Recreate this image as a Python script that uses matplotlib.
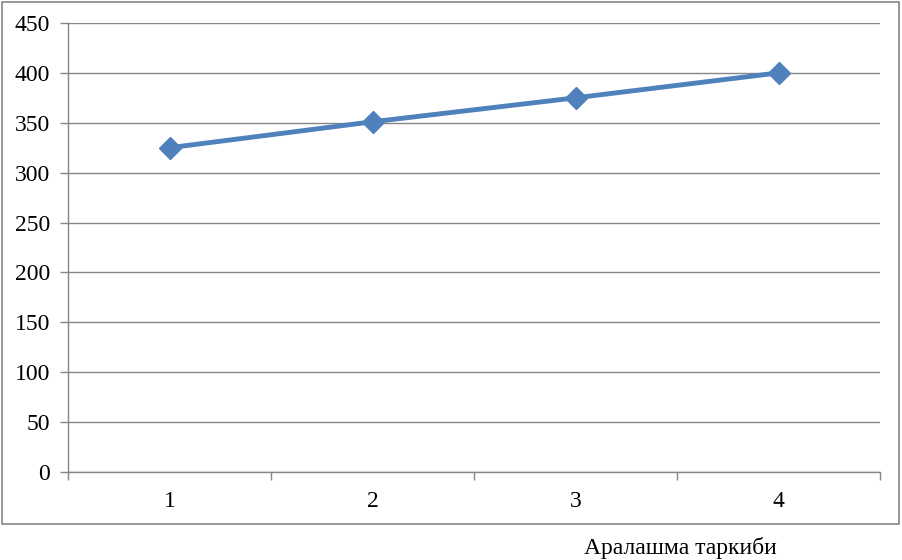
import matplotlib
matplotlib.use('Agg')
import matplotlib.pyplot as plt
from matplotlib.patches import Rectangle

# chart data
categories = ['1', '2', '3', '4']
values = [325, 351, 375, 400]
y_ticks = [0, 50, 100, 150, 200, 250, 300, 350, 400, 450]
x_title = 'Аралашма таркиби'

plt.rcParams['font.family'] = ['Liberation Serif', 'DejaVu Serif']
grey = '#868686'
fs = 17

fig = plt.figure(figsize=(9.02, 5.6), dpi=100)
ax = fig.add_axes([68 / 902, 88 / 560, 812 / 902, 449 / 560])

x = [i + 0.5 for i in range(len(categories))]
ax.plot(x, values, color='#4F81BD', linewidth=3.5, marker='D', markersize=11,
        markerfacecolor='#4F81BD', markeredgecolor='#4F81BD', zorder=3)

ax.set_xlim(0, len(categories))
ax.set_ylim(0, 450)
ax.set_yticks(y_ticks)
ax.set_yticklabels([str(v) for v in y_ticks], fontsize=fs)
ax.yaxis.grid(True, color=grey, linewidth=1)
ax.set_axisbelow(True)

ax.set_xticks(range(len(categories) + 1))
ax.set_xticklabels([''] * (len(categories) + 1))
ax.set_xticks(x, minor=True)
ax.set_xticklabels(categories, minor=True, fontsize=fs)
ax.tick_params(axis='x', which='major', length=6, color=grey, width=1)
ax.tick_params(axis='x', which='minor', length=0, pad=14)
ax.tick_params(axis='y', length=6, color=grey, width=1, pad=7)

for s in ['top', 'right']:
    ax.spines[s].set_visible(False)
for s in ['left', 'bottom']:
    ax.spines[s].set_color(grey)
    ax.spines[s].set_linewidth(1)

# outer chart border
fig.patches.append(Rectangle((1.5 / 902, 1 - 524 / 560), 897 / 902, 522 / 560,
                             transform=fig.transFigure, fill=False,
                             edgecolor=grey, linewidth=1.2))

fig.text(680 / 902, 1 - 548 / 560, x_title, ha='center', va='center', fontsize=fs)

fig.savefig('out.png', dpi=100)
